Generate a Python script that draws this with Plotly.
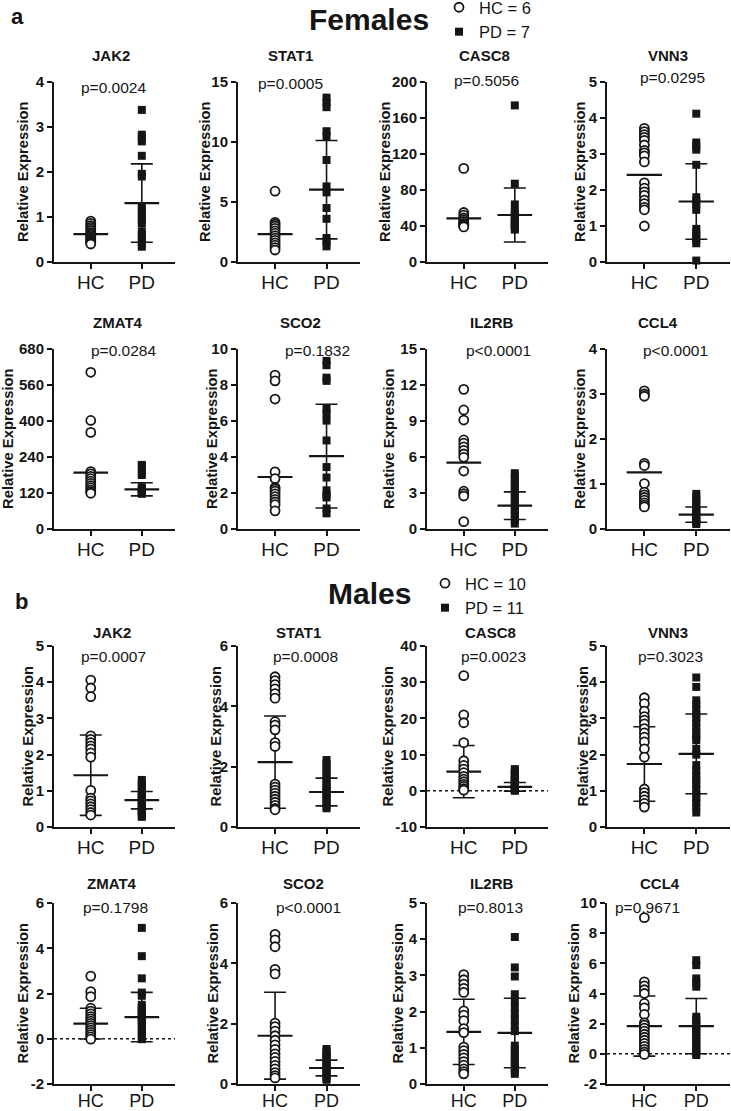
import plotly.graph_objects as go

W, H = 731, 1111

genes = ["JAK2", "STAT1", "CASC8", "VNN3", "ZMAT4", "SCO2", "IL2RB", "CCL4"]
groups = ["HC", "PD"]

p_females = ["p=0.0024", "p=0.0005", "p=0.5056", "p=0.0295",
             "p=0.0284", "p=0.1832", "p<0.0001", "p<0.0001"]
p_males = ["p=0.0007", "p=0.0008", "p=0.0023", "p=0.3023",
           "p=0.1798", "p<0.0001", "p=0.8013", "p=0.9671"]

# ---------------- Females ----------------
f_jak2_hc = [0.91, 0.86, 0.81, 0.77, 0.73, 0.69, 0.65, 0.62, 0.59, 0.56, 0.53, 0.50, 0.47, 0.44, 0.42, 0.40]
f_jak2_pd = [3.38, 2.83, 2.76, 2.68, 2.36, 1.96, 1.90, 1.24, 1.14, 1.04, 0.95, 0.86, 0.68, 0.60, 0.50, 0.42, 0.34]
f_stat1_hc = [5.9, 3.3, 3.15, 3.0, 2.8, 2.6, 2.4, 2.2, 2.0, 1.8, 1.6, 1.4, 1.2, 1.0]
f_stat1_pd = [13.7, 13.3, 12.9, 10.9, 10.5, 8.5, 6.3, 5.8, 4.5, 3.6, 2.0, 1.7, 1.3]
f_casc8_hc = [104, 55, 52, 49, 47, 45, 43, 42, 41, 40, 39]
f_casc8_pd = [174, 87, 64, 56, 53, 50, 47, 44, 42, 40, 38, 36]
f_vnn3_hc = [3.71, 3.62, 3.54, 3.46, 3.38, 3.25, 3.10, 3.03, 2.95, 2.78, 2.2, 2.05, 1.95, 1.85, 1.72, 1.62, 1.52, 1.45, 1.0]
f_vnn3_pd = [4.12, 3.32, 3.22, 3.12, 2.70, 1.80, 1.70, 1.60, 1.45, 0.92, 0.82, 0.72, 0.62, 0.52, 0.04]
f_zmat4_hc = [592, 410, 365, 217, 208, 199, 190, 181, 172, 164, 156, 148, 141, 135]
f_zmat4_pd = [242, 236, 210, 204, 158, 151, 146, 141, 137, 133]
f_sco2_hc = [8.55, 8.23, 7.22, 3.17, 2.80, 2.30, 2.22, 2.10, 1.95, 1.80, 1.65, 1.50, 1.35, 1.01]
f_sco2_pd = [9.34, 9.10, 8.41, 8.23, 6.67, 6.40, 6.02, 4.92, 3.44, 2.86, 2.15, 1.88, 1.75, 1.14, 0.87]
f_il2rb_hc = [11.64, 9.92, 9.08, 7.42, 7.15, 6.85, 6.55, 6.25, 5.97, 4.83, 3.15, 2.95, 2.75, 0.61]
f_il2rb_pd = [4.65, 4.35, 4.05, 3.75, 3.45, 3.15, 2.85, 2.55, 2.25, 1.95, 1.65, 1.35, 1.05, 0.75, 0.45]
f_ccl4_hc = [3.07, 3.00, 2.95, 1.46, 1.41, 1.01, 0.82, 0.76, 0.70, 0.64, 0.58, 0.53, 0.49]
f_ccl4_pd = [0.78, 0.71, 0.64, 0.57, 0.50, 0.44, 0.38, 0.32, 0.26, 0.20, 0.15, 0.11]

f_hc_mean = [0.62, 2.33, 48.5, 2.42, 213, 2.89, 5.53, 1.26]
f_pd_mean = [1.31, 6.03, 52.2, 1.68, 150, 4.05, 1.94, 0.32]
f_pd_sd = [0.87, 4.1, 30, 1.05, 25, 2.88, 1.15, 0.17]

f_yticks = [[0, 1, 2, 3, 4], [0, 5, 10, 15], [0, 40, 80, 120, 160, 200], [0, 1, 2, 3, 4, 5],
            [0, 136, 272, 408, 544, 680], [0, 2, 4, 6, 8, 10], [0, 3, 6, 9, 12, 15], [0, 1, 2, 3, 4]]
f_yticklabels = [["0", "1", "2", "3", "4"], ["0", "5", "10", "15"], ["0", "40", "80", "120", "160", "200"],
                 ["0", "1", "2", "3", "4", "5"], ["0", "120", "240", "400", "560", "680"],
                 ["0", "2", "4", "6", "8", "10"], ["0", "3", "6", "9", "12", "15"], ["0", "1", "2", "3", "4"]]

# ---------------- Males ----------------
m_jak2_hc = [4.06, 3.84, 3.60, 2.52, 2.42, 2.33, 2.24, 2.16, 2.05, 1.93, 1.01, 0.80, 0.72, 0.64, 0.56, 0.48, 0.40, 0.33]
m_jak2_pd = [1.30, 1.22, 1.14, 1.06, 0.98, 0.92, 0.86, 0.80, 0.74, 0.68, 0.62, 0.56, 0.50, 0.44, 0.38, 0.33, 0.28]
m_stat1_hc = [4.98, 4.85, 4.72, 4.58, 4.42, 4.27, 3.49, 3.38, 3.22, 2.80, 2.67, 1.42, 1.32, 1.22, 1.12, 1.02, 0.92, 0.82, 0.72, 0.62, 0.57]
m_stat1_pd = [2.22, 2.10, 1.98, 1.86, 1.74, 1.62, 1.50, 1.40, 1.30, 1.20, 1.10, 1.00, 0.90, 0.80, 0.70, 0.62]
m_casc8_hc = [31.8, 21.0, 18.8, 13.3, 8.3, 7.0, 6.0, 5.0, 4.0, 3.2, 2.5, 1.8, 1.2, 0.6, 0.2]
m_casc8_pd = [6.0, 5.4, 4.8, 4.2, 3.6, 3.0, 2.5, 2.0, 1.6, 1.2, 0.8, 0.5, 0.2, 0.0]
m_vnn3_hc = [3.57, 3.41, 3.20, 3.05, 2.95, 2.85, 2.72, 2.60, 2.48, 2.35, 2.16, 1.93, 1.05, 0.95, 0.85, 0.75, 0.65, 0.55]
m_vnn3_pd = [4.13, 3.87, 3.50, 3.38, 3.25, 3.12, 3.00, 2.88, 2.75, 2.62, 2.50, 2.40, 2.16, 2.00, 1.71, 1.55,
             1.42, 1.30, 1.18, 1.05, 0.92, 0.80, 0.68, 0.55, 0.40]
m_zmat4_hc = [2.77, 2.08, 1.86, 1.35, 1.22, 1.10, 0.98, 0.88, 0.78, 0.68, 0.58, 0.48, 0.38, 0.28, 0.18, 0.08, -0.02]
m_zmat4_pd = [4.90, 3.65, 2.67, 2.04, 1.90, 1.50, 1.40, 1.30, 1.20, 1.10, 1.00, 0.90, 0.80, 0.70, 0.55, 0.40, 0.25, 0.10, -0.02]
m_sco2_hc = [4.96, 4.78, 4.55, 3.80, 3.65, 2.02, 1.90, 1.75, 1.60, 1.45, 1.30, 1.15, 1.00, 0.88, 0.75, 0.62, 0.50, 0.38, 0.28, 0.20]
m_sco2_pd = [1.16, 1.08, 1.00, 0.92, 0.84, 0.76, 0.68, 0.60, 0.52, 0.44, 0.36, 0.28, 0.20, 0.14]
m_il2rb_hc = [3.02, 2.88, 2.76, 2.64, 2.53, 2.02, 1.90, 1.75, 1.53, 1.42, 1.02, 0.92, 0.82, 0.72, 0.62, 0.52, 0.42, 0.34, 0.28]
m_il2rb_pd = [4.06, 3.22, 2.97, 2.48, 2.30, 2.12, 1.95, 1.78, 1.60, 1.46, 1.06, 0.95, 0.85, 0.75, 0.65, 0.55, 0.45, 0.36, 0.28]
m_ccl4_hc = [9.03, 4.77, 4.50, 4.25, 4.00, 3.34, 3.05, 2.61, 2.05, 1.90, 1.70, 1.50, 1.30, 1.10, 0.90, 0.70, 0.50, 0.30, 0.12, -0.04]
m_ccl4_pd = [6.21, 5.88, 5.00, 4.70, 4.45, 2.46, 2.25, 2.05, 1.85, 1.65, 1.45, 1.25, 1.05, 0.85, 0.65, 0.45, 0.25, 0.05, -0.08]

m_hc_mean = [1.43, 2.15, 5.3, 1.74, 0.67, 1.60, 1.44, 1.84]
m_hc_sd = [1.11, 1.53, 7.2, 1.03, 0.68, 1.44, 0.90, 1.99]
m_pd_mean = [0.74, 1.16, 1.1, 2.02, 0.96, 0.53, 1.41, 1.84]
m_pd_sd = [0.24, 0.46, 1.2, 1.10, 1.09, 0.26, 0.96, 1.83]

m_yticks = [[0, 1, 2, 3, 4, 5], [0, 2, 4, 6], [-10, 0, 10, 20, 30, 40], [0, 1, 2, 3, 4, 5],
            [-2, 0, 2, 4, 6], [0, 2, 4, 6], [0, 1, 2, 3, 4, 5], [-2, 0, 2, 4, 6, 8, 10]]

legend_f = ["HC = 6", "PD = 7"]
legend_m = ["HC = 10", "PD = 11"]

f_hc = [f_jak2_hc, f_stat1_hc, f_casc8_hc, f_vnn3_hc, f_zmat4_hc, f_sco2_hc, f_il2rb_hc, f_ccl4_hc]
f_pd = [f_jak2_pd, f_stat1_pd, f_casc8_pd, f_vnn3_pd, f_zmat4_pd, f_sco2_pd, f_il2rb_pd, f_ccl4_pd]
m_hc = [m_jak2_hc, m_stat1_hc, m_casc8_hc, m_vnn3_hc, m_zmat4_hc, m_sco2_hc, m_il2rb_hc, m_ccl4_hc]
m_pd = [m_jak2_pd, m_stat1_pd, m_casc8_pd, m_vnn3_pd, m_zmat4_pd, m_sco2_pd, m_il2rb_pd, m_ccl4_pd]

# ---------------- layout geometry (pixels) ----------------
FONT = "Liberation Sans, Arial, sans-serif"
INK = "#151515"
XR = [-0.72, 1.65]
HALF_MEAN = 0.34

col_x = [(54, 175), (238, 360), (427, 548), (607, 730)]
row_y = [(82, 262), (349, 529), (646, 827), (903, 1084)]
xlabel_standoff = [-3, -3, -3, -6]
xlabel_size = [19, 19, 19, 18]
title_y = [56, 323, 632, 883]
title_x = [[111, 290, 484, 668], [118, 300, 492, 658], [112, 298, 490, 668], [112, 303, 492, 660]]
pval_xy = [[(113, 87), (290, 83), (487, 80), (672, 77)],
           [(123, 350), (317, 350), (498, 350), (675, 350)],
           [(113, 656), (305, 656), (493, 656), (670, 656)],
           [(115, 907), (308, 907), (490, 907), (647, 907)]]
ytitle_x = [[23, 205, 385, 580], [8, 212, 389, 580], [27, 215, 387, 582], [22, 212, 397, 573]]


def px(x):
    return x / W


def py(y):
    return 1 - y / H


fig = go.Figure()
annotations = []

for sex in range(2):
    for g in range(8):
        r = sex * 2 + g // 4
        c = g % 4
        k = sex * 8 + g + 1
        xa = "x" if k == 1 else f"x{k}"
        ya = "y" if k == 1 else f"y{k}"
        if sex == 0:
            hc, pd = f_hc[g], f_pd[g]
            hc_m, pd_m, pd_s = f_hc_mean[g], f_pd_mean[g], f_pd_sd[g]
            hc_s = None
            ticks, labels = f_yticks[g], f_yticklabels[g]
            pvals = p_females
            legname, leg = legend_f, "legend"
        else:
            hc, pd = m_hc[g], m_pd[g]
            hc_m, pd_m, pd_s = m_hc_mean[g], m_pd_mean[g], m_pd_sd[g]
            hc_s = m_hc_sd[g]
            ticks = m_yticks[g]
            labels = [str(t) for t in ticks]
            pvals = p_males
            legname, leg = legend_m, "legend2"

        # zero dotted line when axis goes negative
        if ticks[0] < 0:
            fig.add_trace(go.Scatter(x=XR, y=[0, 0], mode="lines", xaxis=xa, yaxis=ya,
                                     line=dict(color=INK, width=1.5, dash="dot"),
                                     showlegend=False, hoverinfo="skip", cliponaxis=False))

        # SD error bars and mean lines
        for xi, m, s in [(0, hc_m, hc_s), (1, pd_m, pd_s)]:
            if s is not None:
                fig.add_trace(go.Scatter(x=[xi], y=[m], mode="markers", xaxis=xa, yaxis=ya,
                                         marker=dict(size=1, color="rgba(0,0,0,0)"),
                                         error_y=dict(type="data", array=[s], symmetric=True,
                                                      width=11, thickness=1.6, color=INK),
                                         showlegend=False, hoverinfo="skip", cliponaxis=False))
            fig.add_trace(go.Scatter(x=[xi - HALF_MEAN, xi + HALF_MEAN], y=[m, m], mode="lines",
                                     xaxis=xa, yaxis=ya, line=dict(color=INK, width=2.2),
                                     showlegend=False, hoverinfo="skip", cliponaxis=False))

        # points
        fig.add_trace(go.Scatter(x=[0] * len(hc), y=hc, mode="markers", xaxis=xa, yaxis=ya,
                                 name=legname[0], legend=leg, showlegend=(g == 0),
                                 marker=dict(symbol="circle", size=9, color="white",
                                             line=dict(color=INK, width=1.8)),
                                 cliponaxis=False))
        fig.add_trace(go.Scatter(x=[1] * len(pd), y=pd, mode="markers", xaxis=xa, yaxis=ya,
                                 name=legname[1], legend=leg, showlegend=(g == 0),
                                 marker=dict(symbol="square", size=8, color=INK,
                                             line=dict(color=INK, width=0)),
                                 cliponaxis=False))

        x0, x1 = col_x[c]
        y0, y1 = row_y[r]
        fig.layout[f"xaxis{'' if k == 1 else k}"] = dict(
            domain=[px(x0), px(x1)], anchor=ya, range=XR, tickvals=[0, 1], ticktext=groups,
            ticks="outside", ticklen=5, tickwidth=2, tickcolor=INK, ticklabelstandoff=xlabel_standoff[r],
            showline=True, linewidth=2, linecolor=INK, showgrid=False, zeroline=False,
            tickfont=dict(family=FONT, size=xlabel_size[r], color=INK), fixedrange=True)
        fig.layout[f"yaxis{'' if k == 1 else k}"] = dict(
            domain=[py(y1), py(y0)], anchor=xa, range=[ticks[0], ticks[-1]],
            tickvals=ticks, ticktext=labels,
            ticks="outside", ticklen=5, tickwidth=2, tickcolor=INK,
            showline=True, linewidth=2, linecolor=INK, showgrid=False, zeroline=False,
            tickfont=dict(family=FONT, size=15, color=INK, weight="bold"), fixedrange=True)

        annotations.append(dict(x=px(title_x[r][c]), y=py(title_y[r]), xref="paper", yref="paper",
                                text=genes[g], showarrow=False, xanchor="center", yanchor="middle",
                                font=dict(family=FONT, size=15, color=INK, weight="bold")))
        pxx, pyy = pval_xy[r][c]
        annotations.append(dict(x=px(pxx), y=py(pyy), xref="paper", yref="paper",
                                text=pvals[g], showarrow=False, xanchor="center", yanchor="middle",
                                font=dict(family=FONT, size=15.5, color=INK)))
        annotations.append(dict(x=px(ytitle_x[r][c]), y=py((y0 + y1) / 2), xref="paper", yref="paper",
                                text="Relative Expression", showarrow=False, textangle=-90,
                                xanchor="center", yanchor="middle",
                                font=dict(family=FONT, size=14.8, color=INK, weight="bold")))

for txt, x, y, s in [("Females", 369, 19, 30), ("Males", 369, 593, 30)]:
    annotations.append(dict(x=px(x), y=py(y), xref="paper", yref="paper", text=txt, showarrow=False,
                            xanchor="center", yanchor="middle",
                            font=dict(family=FONT, size=s, color=INK, weight="bold")))
for txt, x, y in [("a", 17, 17), ("b", 21, 602)]:
    annotations.append(dict(x=px(x), y=py(y), xref="paper", yref="paper", text=txt, showarrow=False,
                            xanchor="center", yanchor="middle",
                            font=dict(family=FONT, size=22, color=INK, weight="bold")))

fig.update_layout(
    width=W, height=H, margin=dict(l=0, r=0, t=0, b=0, autoexpand=False),
    paper_bgcolor="white", plot_bgcolor="white",
    annotations=annotations,
    legend=dict(x=px(439), y=py(-10), xanchor="left", yanchor="top", bgcolor="rgba(0,0,0,0)",
                font=dict(family=FONT, size=16.5, color=INK), tracegroupgap=0),
    legend2=dict(x=px(425), y=py(566), xanchor="left", yanchor="top", bgcolor="rgba(0,0,0,0)",
                 font=dict(family=FONT, size=16.5, color=INK), tracegroupgap=0),
)

fig.write_html("out.html", config={"displayModeBar": False, "staticPlot": True},
               post_script="document.body.style.margin='0';document.body.style.overflow='hidden';")
